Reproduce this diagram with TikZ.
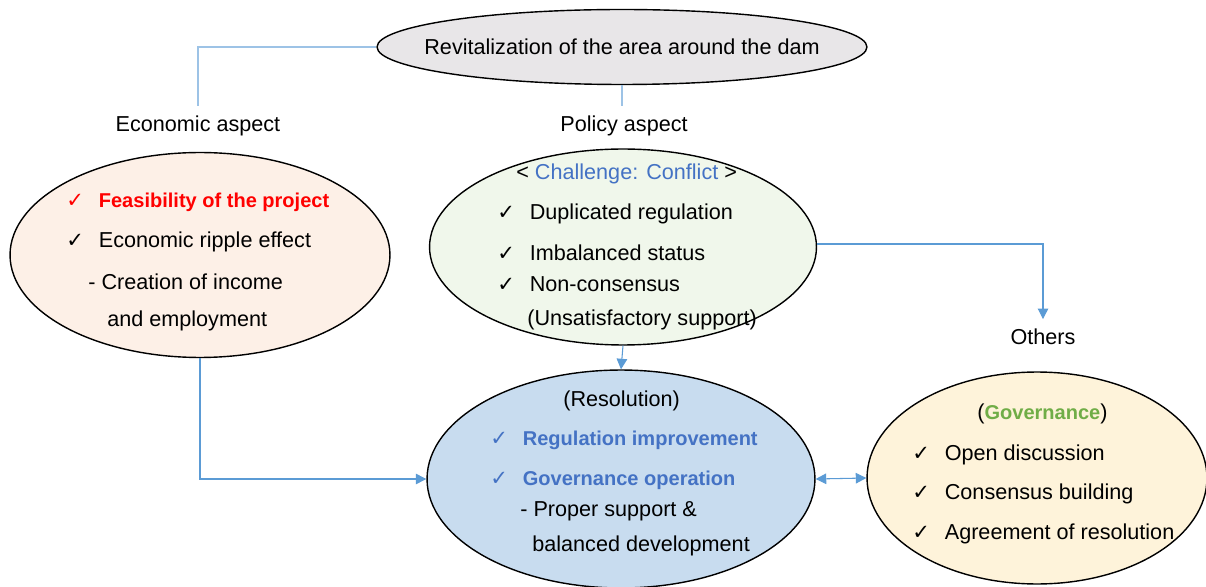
\documentclass[tikz,border=0pt]{standalone}
\usepackage{fontspec}
\setmainfont{Liberation Sans}
\newfontfamily\symfont{DejaVu Sans}
\usetikzlibrary{shapes.geometric,arrows.meta}

\definecolor{linkblue}{HTML}{9DC3E6}
\definecolor{arrowblue}{HTML}{5B9BD5}
\definecolor{topgray}{HTML}{E8E6E8}
\definecolor{econfill}{HTML}{FDF0E7}
\definecolor{policyfill}{HTML}{F0F7EB}
\definecolor{resfill}{HTML}{C8DCEF}
\definecolor{govfill}{HTML}{FEF3DA}
\definecolor{txtblue}{HTML}{4472C4}
\definecolor{txtgreen}{HTML}{70AD47}

% check mark followed by a fixed gap
\newcommand{\tick}{\makebox[18.5pt][l]{\symfont\fontsize{12}{12}\selectfont ✓}}
% bold lines are set a little smaller
\newcommand{\hl}[1]{{\fontsize{11.4}{14}\selectfont\bfseries #1}}

\tikzset{
  bubble/.style={ellipse,draw=black,line width=0.8pt,inner sep=0pt},
  item/.style={anchor=west,inner sep=0pt},
  caption/.style={inner sep=5.5pt},
  link/.style={draw=linkblue,line width=0.6pt},
  arrow/.style={draw=arrowblue,line width=0.6pt,-{Triangle[length=6pt,width=6pt]}}
}

\begin{document}
\begin{tikzpicture}[x=0.02cm,y=-0.02cm,font=\fontsize{12.3}{15}\selectfont]
  \useasboundingbox (0,0) rectangle (1206,587);

  % ellipses
  \node[bubble,fill=topgray,minimum width=9.8cm,minimum height=1.5cm] (vision) at (622,47) {};
  \node[bubble,fill=econfill,minimum width=7.6cm,minimum height=4.1cm] (econbox) at (200,255) {};
  \node[bubble,fill=policyfill,minimum width=7.74cm,minimum height=3.92cm] (policybox) at (623,247) {};
  \node[bubble,fill=resfill,minimum width=7.76cm,minimum height=4.36cm] (resbox) at (621,479) {};
  \node[bubble,fill=govfill,minimum width=6.8cm,minimum height=4.24cm] (govbox) at (1037,478) {};
  \node (title) at (vision.center) {Revitalization of the area around the dam};

  % captions
  \node[caption] (econ) at (198,126) {Economic aspect};
  \node[caption] (policy) at (624,126) {Policy aspect};
  \node[caption] (others) at (1043,337) {Others};

  % economic aspect
  \node[item,text=red] (e1) at (66,202) {\tick\hl{Feasibility of the project}};
  \node[item] (e2) at (66,242) {\tick Economic ripple effect};
  \node[item] (e3) at (88,282) {- Creation of income};
  \node[item] (e4) at (107,321) {and employment};

  % policy aspect
  \node[item] (p0) at (516,174) {< \textcolor{txtblue}{Challenge: Conflict} >};
  \node[item] (p1) at (497,214) {\tick Duplicated regulation};
  \node[item] (p2) at (497,253) {\tick Imbalanced status};
  \node[item] (p3) at (497,284) {\tick Non-consensus};
  \node[item] (p4) at (527,320) {(Unsatisfactory support)};

  % resolution
  \node[item] (r0) at (563,401) {(Resolution)};
  \node[item,text=txtblue] (r1) at (490,440) {\tick\hl{Regulation improvement}};
  \node[item,text=txtblue] (r2) at (490,480) {\tick\hl{Governance operation}};
  \node[item] (r3) at (520,511) {- Proper support \&};
  \node[item] (r4) at (532,546) {balanced development};

  % governance
  \node[item] (g0) at (977,414) {(\textcolor{txtgreen}{\hl{Governance}})};
  \node[item] (g1) at (912,455) {\tick Open discussion};
  \node[item] (g2) at (912,494) {\tick Consensus building};
  \node[item] (g3) at (912,534) {\tick Agreement of resolution};

  % connectors
  \draw[link] (vision.west) -| (econ.north);
  \draw[link] (vision.south) -- (vision.south |- policy.north);
  \draw[arrow] (econbox.south) |- (resbox.west);
  \draw[arrow] (policybox.south) -- (resbox.north);
  \draw[arrow] ([yshift=0.06cm]policybox.east) -| (others.north);
  \draw[arrow,{Triangle[length=6pt,width=6pt]}-{Triangle[length=6pt,width=6pt]}] (resbox.east) -- (govbox.west);
\end{tikzpicture}
\end{document}
